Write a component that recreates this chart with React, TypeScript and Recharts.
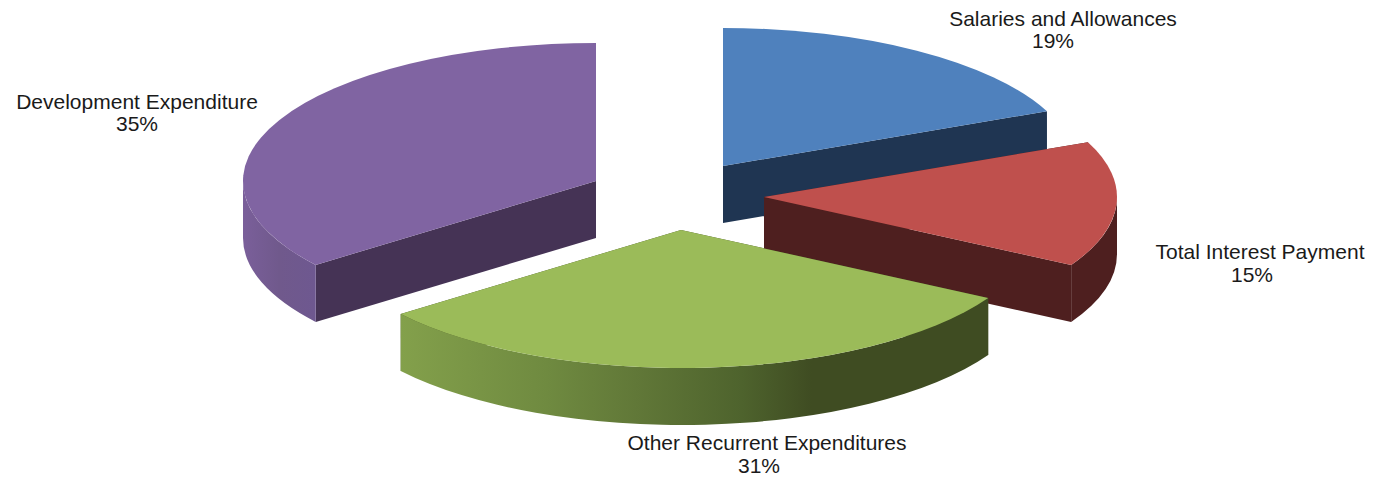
import { Pie, PieChart } from 'recharts';

const categories = [
  'Salaries and Allowances',
  'Total Interest Payment',
  'Other Recurrent Expenditures',
  'Development Expenditure',
];
// estimated from the slice edges, the printed labels are these rounded
const shares = [18.5, 14.7, 31.4, 35.4];

const topColors = ['#4f81bd', '#bf504d', '#9bbb59', '#8064a2'];
const wallColors = ['#1f3552', '#4e1f1f', '#3f4c22', '#453355'];
const rimFills = ['#1f3552', '#4e1f1f', 'url(#greenRim)', 'url(#purpleRim)'];

// where each exploded slice's tip sits, relative to the pie centre
const sliceOffsets = [
  { dx: 43, dy: -20 },
  { dx: 84, dy: 11 },
  { dx: 1, dy: 44 },
  { dx: -84, dy: -5 },
];
// label lines: name x, name y, percent x, percent y
const labelSpots = [
  { nameX: 1063, nameY: 26, pctX: 1053, pctY: 48 },
  { nameX: 1260, nameY: 259, pctX: 1252, pctY: 282 },
  { nameX: 767, nameY: 450, pctX: 759, pctY: 473 },
  { nameX: 137, nameY: 109, pctX: 137, pctY: 131 },
];

const chartData = categories.map((name, i) => ({ name, value: shares[i] }));

const CX = 680;
const CY = 186;
const RADIUS = 353;
const SQUASH = 138 / 353;
const DEPTH = 57;

const rad = (deg: number) => (deg * Math.PI) / 180;

const Slice3D = (props: any) => {
  const { startAngle, endAngle, outerRadius, cx, cy, name } = props;
  const i = categories.indexOf(name);
  const ax = cx + sliceOffsets[i].dx;
  const ay = cy + sliceOffsets[i].dy;
  const rx = outerRadius;
  const ry = outerRadius * SQUASH;

  const at = (deg: number, drop = 0) =>
    `${ax + rx * Math.cos(rad(deg))} ${ay - ry * Math.sin(rad(deg)) + drop}`;
  const arc = (from: number, to: number, sweep: number) =>
    `A ${rx} ${ry} 0 ${Math.abs(to - from) > 180 ? 1 : 0} ${sweep} ${at(to)}`;
  const arcDown = (from: number, to: number, sweep: number) =>
    `A ${rx} ${ry} 0 ${Math.abs(to - from) > 180 ? 1 : 0} ${sweep} ${at(to, DEPTH)}`;

  const wall = (deg: number) =>
    `M ${ax} ${ay} L ${at(deg)} L ${at(deg, DEPTH)} L ${ax} ${ay + DEPTH} Z`;

  // only the part of the rim on the front half of the ellipse can be seen
  const rimFrom = Math.min(startAngle, 0);
  const rimTo = Math.max(endAngle, -180);
  const hasRim = rimFrom > rimTo;

  return (
    <g>
      <path d={wall(startAngle)} fill={wallColors[i]} />
      <path d={wall(endAngle)} fill={wallColors[i]} />
      {hasRim && (
        <path
          d={`M ${at(rimFrom)} ${arc(rimFrom, rimTo, 1)} L ${at(rimTo, DEPTH)} ${arcDown(rimTo, rimFrom, 0)} Z`}
          fill={rimFills[i]}
        />
      )}
      <path
        d={`M ${ax} ${ay} L ${at(startAngle)} ${arc(startAngle, endAngle, 1)} Z`}
        fill={topColors[i]}
      />
    </g>
  );
};

const SliceLabel = (props: any) => {
  const spot = labelSpots[categories.indexOf(props.name)];
  return (
    <g fontFamily="Liberation Sans" fontSize={21} fill="#1a1a1a" textAnchor="middle">
      <text x={spot.nameX} y={spot.nameY}>{props.name}</text>
      <text x={spot.pctX} y={spot.pctY}>{`${Math.round(props.value)}%`}</text>
    </g>
  );
};

export default function App() {
  return (
    <div style={{ position: 'absolute', left: 0, top: 0, width: 1374, height: 477, background: '#fff' }}>
      <PieChart width={1374} height={477} margin={{ top: 0, right: 0, bottom: 0, left: 0 }}>
        <defs>
          <linearGradient id="greenRim" x1="0" y1="0" x2="1" y2="0">
            <stop offset="0" stopColor="#83a04b" />
            <stop offset="0.25" stopColor="#6f8a40" />
            <stop offset="0.4" stopColor="#617838" />
            <stop offset="0.58" stopColor="#4e632d" />
            <stop offset="0.7" stopColor="#3f4c22" />
            <stop offset="1" stopColor="#3f4c22" />
          </linearGradient>
          <linearGradient id="purpleRim" x1="0" y1="0" x2="1" y2="0">
            <stop offset="0" stopColor="#7a5f9a" />
            <stop offset="0.5" stopColor="#70598c" />
            <stop offset="1" stopColor="#6e5890" />
          </linearGradient>
        </defs>
        <Pie
          data={chartData}
          dataKey="value"
          nameKey="name"
          cx={CX}
          cy={CY}
          outerRadius={RADIUS}
          startAngle={90}
          endAngle={-270}
          stroke="none"
          shape={Slice3D}
          label={SliceLabel}
          labelLine={false}
          isAnimationActive={false}
        />
      </PieChart>
    </div>
  );
}
